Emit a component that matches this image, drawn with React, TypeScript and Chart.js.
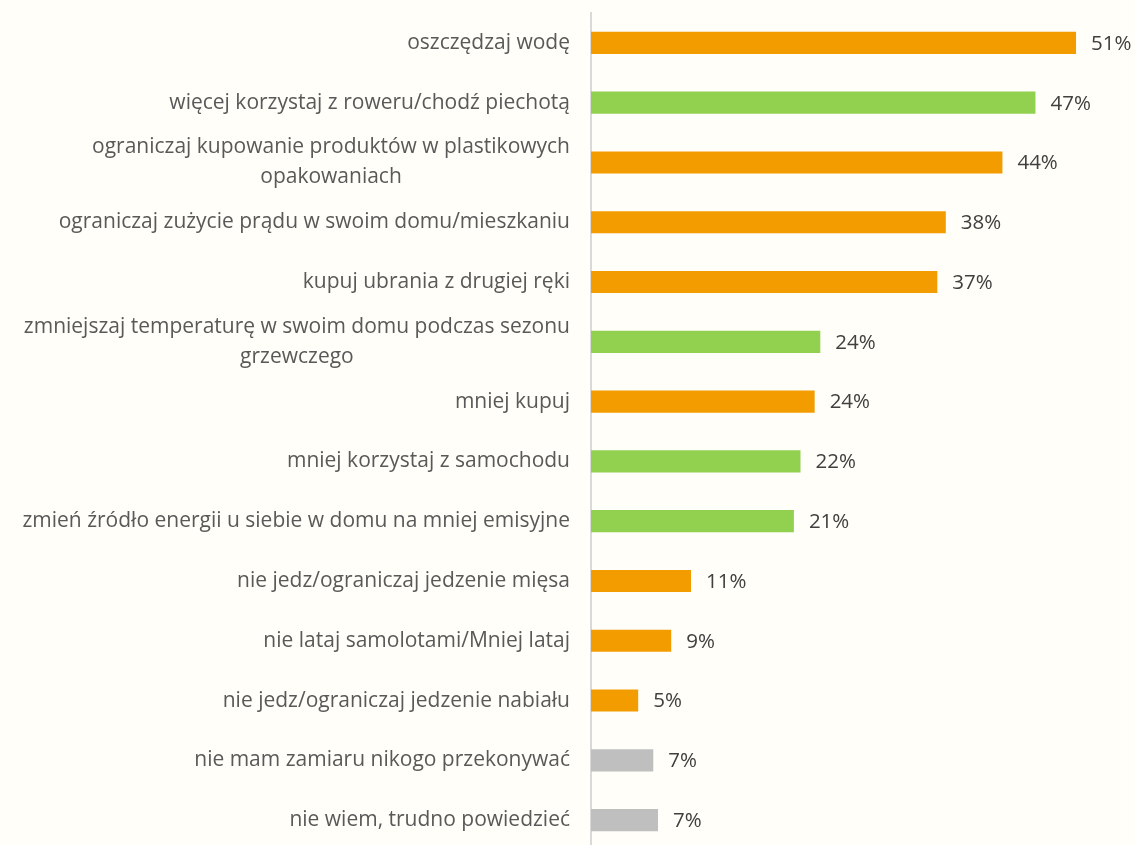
import React, { useEffect, useRef } from 'react';
import { Chart, registerables } from 'chart.js';

Chart.register(...registerables);

const categories: string[][] = [
  ['oszczędzaj wodę'],
  ['więcej korzystaj z roweru/chodź piechotą'],
  ['ograniczaj kupowanie produktów w plastikowych', 'opakowaniach'],
  ['ograniczaj zużycie prądu w swoim domu/mieszkaniu'],
  ['kupuj ubrania z drugiej ręki'],
  ['zmniejszaj temperaturę w swoim domu podczas sezonu', 'grzewczego'],
  ['mniej kupuj'],
  ['mniej korzystaj z samochodu'],
  ['zmień źródło energii u siebie w domu na mniej emisyjne'],
  ['nie jedz/ograniczaj jedzenie mięsa'],
  ['nie lataj samolotami/Mniej lataj'],
  ['nie jedz/ograniczaj jedzenie nabiału'],
  ['nie mam zamiaru nikogo przekonywać'],
  ['nie wiem, trudno powiedzieć'],
];

const values: number[] = [51.4, 47.1, 43.6, 37.6, 36.7, 24.3, 23.7, 22.2, 21.5, 10.6, 8.5, 5.0, 6.6, 7.1];

const valueLabels: string[] = ['51%', '47%', '44%', '38%', '37%', '24%', '24%', '22%', '21%', '11%', '9%', '5%', '7%', '7%'];

const ORANGE = '#F39C00';
const GREEN = '#92D050';
const GREY = '#BFBFBF';

const barColors: string[] = [
  ORANGE, GREEN, ORANGE, ORANGE, ORANGE, GREEN, ORANGE, GREEN, GREEN, ORANGE, ORANGE, ORANGE, GREY, GREY,
];

const FONT = '"Open Sans", "Noto Sans", sans-serif';
const LABEL_SIZE = 21;
const VALUE_SIZE = 20.5;
const LINE_HEIGHT = 30;

const labelPlugin = {
  id: 'customLabels',
  afterDatasetsDraw(chart: any) {
    const ctx = chart.ctx as CanvasRenderingContext2D;
    const yScale = chart.scales.y;
    const left = chart.chartArea.left;
    ctx.save();
    ctx.font = `${LABEL_SIZE}px ${FONT}`;
    ctx.fillStyle = '#595959';
    ctx.textBaseline = 'middle';
    ctx.textAlign = 'center';
    categories.forEach((lines, i) => {
      const yc = yScale.getPixelForValue(i);
      const w = Math.max(...lines.map((l) => ctx.measureText(l).width));
      const cx = left - 21 - w / 2;
      lines.forEach((l, j) => {
        const y = yc + (j - (lines.length - 1) / 2) * LINE_HEIGHT;
        ctx.fillText(l, cx, y);
      });
    });
    const meta = chart.getDatasetMeta(0);
    ctx.font = `${VALUE_SIZE}px ${FONT}`;
    ctx.fillStyle = '#404040';
    ctx.textAlign = 'left';
    meta.data.forEach((bar: any, i: number) => {
      ctx.fillText(valueLabels[i], bar.x + 15, bar.y + 1);
    });
    ctx.restore();
  },
};

const bgPlugin = {
  id: 'bg',
  beforeDraw(chart: any) {
    const ctx = chart.ctx as CanvasRenderingContext2D;
    ctx.save();
    ctx.fillStyle = '#FFFEF8';
    ctx.fillRect(0, 0, chart.width, chart.height);
    ctx.restore();
  },
};

export default function App() {
  const ref = useRef<HTMLCanvasElement | null>(null);

  useEffect(() => {
    if (!ref.current) return;
    const chart = new Chart(ref.current, {
      type: 'bar',
      data: {
        labels: categories,
        datasets: [
          {
            data: values,
            backgroundColor: barColors,
            borderWidth: 0,
            barPercentage: 0.37,
            categoryPercentage: 1,
          },
        ],
      },
      options: {
        indexAxis: 'y',
        responsive: false,
        animation: false,
        layout: { padding: { left: 583, top: 13, right: 25, bottom: 1 } },
        plugins: {
          legend: { display: false },
          tooltip: { enabled: false },
        },
        scales: {
          x: { display: false, min: 0, max: 55 },
          y: {
            display: true,
            ticks: { display: false },
            grid: { display: false },
            border: { display: true, color: '#D9D9D9', width: 2 },
          },
        },
      },
      plugins: [bgPlugin, labelPlugin],
    });
    return () => chart.destroy();
  }, []);

  return (
    <div style={{ position: 'fixed', left: 0, top: 0, width: 1135, height: 851, background: '#FFFEF8' }}>
      <canvas ref={ref} width={1135} height={851} style={{ width: 1135, height: 851, display: 'block' }} />
    </div>
  );
}
